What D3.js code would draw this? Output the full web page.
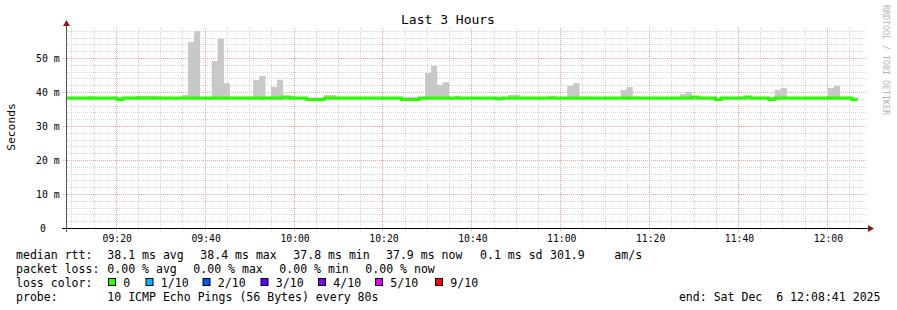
<!DOCTYPE html>
<html><head><meta charset="utf-8">
<script src="https://cdn.jsdelivr.net/npm/d3@7"></script>
<style>
html,body{margin:0;padding:0;background:#fff;}
svg{display:block;}
text{font-family:"DejaVu Sans Mono",monospace;white-space:pre;}
</style>
</head><body>
<svg id="c" width="897" height="310"></svg>
<script>
// ---- data (one value per 80 s step, first step partially visible) ----
const medianRtt = [
  38.2,38.2,38.2,38.2,38.2,38.2,38.2,38.2,38.2,37.8,
  38.2,38.2,38.2,38.2,38.2,38.2,38.2,38.2,38.2,38.2,
  38.2,38.2,38.2,38.2,38.2,38.2,38.2,38.2,38.2,38.2,
  38.2,38.2,38.2,38.2,38.2,38.2,38.2,38.5,38.2,38.2,
  38.2,37.8,37.8,37.8,38.2,38.2,38.2,38.2,38.2,38.2,
  38.2,38.2,38.2,38.2,38.2,38.2,38.2,37.8,37.8,37.8,
  38.2,38.2,38.2,38.2,38.2,38.2,38.2,38.2,38.2,38.2,
  38.2,38.2,38.2,38.0,38.2,38.2,38.2,38.2,38.2,38.2,
  38.2,38.2,38.2,38.2,38.2,38.2,38.2,38.2,38.2,38.2,
  38.2,38.2,38.2,38.2,38.2,38.2,38.2,38.2,38.2,38.2,
  38.2,38.2,38.2,38.2,38.2,38.2,38.5,38.2,38.2,38.2,
  37.8,38.2,38.2,38.2,38.2,38.5,38.2,38.2,38.2,37.8,
  38.2,38.2,38.2,38.2,38.2,38.2,38.2,38.2,38.2,38.2,
  38.2,38.2,38.2,37.8
];
const smokeMax = [
  38.4,38.4,38.4,38.4,38.8,38.4,38.4,38.4,38.4,38.6,
  38.4,38.4,38.9,38.9,38.9,38.9,38.6,38.4,38.4,38.4,
  39.1,54.7,57.9,38.4,38.4,49.1,55.6,42.6,38.6,38.6,
  38.6,38.6,43.5,44.7,38.6,41.5,43.6,38.7,38.9,38.6,
  38.6,38.4,38.4,38.4,39.1,39.1,38.4,38.4,38.4,38.4,
  38.4,38.4,38.4,38.6,38.4,38.4,38.4,38.6,38.6,38.6,
  38.4,45.6,47.7,42.1,42.9,38.4,38.9,38.4,38.4,38.4,
  38.6,38.4,38.4,38.4,38.4,39.2,39.2,38.6,38.4,38.4,
  38.4,38.4,38.9,38.4,38.4,41.8,42.6,38.4,38.6,38.4,
  38.4,38.4,38.4,38.4,40.6,41.5,38.6,38.4,38.4,38.4,
  38.4,38.4,38.4,38.4,39.4,40.0,38.8,38.4,38.4,38.6,
  38.4,38.6,38.6,38.4,38.4,38.4,38.4,38.4,38.6,38.4,
  40.6,41.2,38.4,38.4,38.4,38.4,38.6,38.6,38.4,41.2,
  41.8,38.6,38.6,38.4
];
const smokeMin = [
  37.6,37.6,37.6,37.6,37.5,37.6,37.6,37.6,37.6,37.4,
  37.6,37.6,37.6,37.6,37.6,37.6,37.6,37.6,37.5,37.6,
  37.6,37.6,37.6,37.6,37.6,37.6,37.6,37.6,37.6,37.6,
  37.6,37.6,37.6,37.5,37.6,37.6,37.6,37.6,37.6,37.6,
  37.6,37.4,37.4,37.4,37.6,37.6,37.6,37.6,37.6,37.6,
  37.6,37.6,37.6,37.6,37.6,37.6,37.6,37.4,37.4,37.4,
  37.6,37.6,37.6,37.6,37.6,37.6,37.6,37.6,37.6,37.6,
  37.6,37.6,37.6,37.5,37.6,37.6,37.6,37.6,37.6,37.6,
  37.5,37.6,37.6,37.6,37.6,37.6,37.6,37.6,37.6,37.6,
  37.6,37.6,37.6,37.6,37.6,37.6,37.6,37.6,37.6,37.6,
  37.6,37.6,37.6,37.6,37.6,37.6,37.6,37.6,37.6,37.6,
  37.4,37.6,37.6,37.6,37.6,37.6,37.6,37.6,37.6,37.4,
  37.6,37.6,37.6,37.6,37.6,37.6,37.6,37.6,37.6,37.6,
  37.6,37.6,37.6,37.4
];
const yTickValues = [0,10,20,30,40,50];
const yTickLabels = ["0","10 m","20 m","30 m","40 m","50 m"];
const xTickLabels = ["09:20","09:40","10:00","10:20","10:40","11:00","11:20","11:40","12:00"];
const titleText = "Last 3 Hours";
const yAxisTitle = "Seconds";
const watermark = "RRDTOOL / TOBI OETIKER";
const rttLegend = ["median rtt:","38.1 ms avg","38.4 ms max","37.8 ms min","37.9 ms now","0.1 ms sd","301.9","am/s"];
const lossLegend = ["packet loss:","0.00 % avg","0.00 % max","0.00 % min","0.00 % now"];
const lossColorTitle = "loss color:";
const lossLabels = ["0","1/10","2/10","3/10","4/10","5/10","9/10"];
const lossColors = ["#26ff00","#00b8ff","#0059ff","#5e00ff","#7e00ff","#dd00ff","#ff0000"];
const probeLegend = ["probe:","10 ICMP Echo Pings (56 Bytes) every 80s"];
const endText = "end: Sat Dec  6 12:08:41 2025";

// ---- layout ----
const svg = d3.select("#c");
const tStart = new Date(2025,11,6,9,8,41), tEnd = new Date(2025,11,6,12,8,41);
const firstBar = new Date(2025,11,6,9,7,55);
const stepMs = 80000;
const x = d3.scaleTime().domain([tStart,tEnd]).range([67,867]);
const y = d3.scaleLinear().domain([0,200/3.4]).range([228,28]);
const barStart = i => new Date(firstBar.getTime()+i*stepMs);
const barEnd = i => new Date(firstBar.getTime()+(i+1)*stepMs);
const gx = t => Math.floor(x(t)) - 0.5;

svg.append("rect").attr("width",897).attr("height",310).attr("fill","#fff");

const defs = svg.append("defs");
defs.append("clipPath").attr("id","plot").append("rect").attr("x",67).attr("y",28).attr("width",800).attr("height",200);

// grid
const allT = d3.timeMinute.every(5).range(tStart,tEnd);
const minorT = allT.filter(t=>t.getMinutes()%20!==0);
const majorT = allT.filter(t=>t.getMinutes()%20===0);
const minorY = d3.range(2,59,2).filter(v=>v%10!==0);
const majorY = yTickValues.filter(v=>v>0);
const g = svg.append("g").attr("shape-rendering","crispEdges");
g.selectAll("line.hmin").data(minorY).join("line").attr("class","hmin")
  .attr("x1",67).attr("x2",867).attr("y1",d=>Math.round(y(d))+0.5).attr("y2",d=>Math.round(y(d))+0.5)
  .attr("stroke","#d4d4d4").attr("stroke-dasharray","1,1");
g.selectAll("line.vmin").data(minorT).join("line").attr("class","vmin")
  .attr("x1",gx).attr("x2",gx).attr("y1",28).attr("y2",231)
  .attr("stroke","#d4d4d4").attr("stroke-dasharray","1,1");
g.selectAll("line.hmaj").data(majorY).join("line").attr("class","hmaj")
  .attr("x1",63).attr("x2",867).attr("y1",d=>Math.round(y(d))+0.5).attr("y2",d=>Math.round(y(d))+0.5)
  .attr("stroke","#f4a0a0").attr("stroke-dasharray","1,1");
g.selectAll("line.vmaj").data(majorT).join("line").attr("class","vmaj")
  .attr("x1",gx).attr("x2",gx).attr("y1",28).attr("y2",232)
  .attr("stroke","#f2a0a0").attr("stroke-dasharray","1,1");

// smoke
const plot = svg.append("g").attr("clip-path","url(#plot)");
plot.selectAll("rect.smoke").data(smokeMax).join("rect").attr("class","smoke")
  .attr("x",(d,i)=>x(barStart(i)))
  .attr("width",(d,i)=>x(barEnd(i))-x(barStart(i))+0.3)
  .attr("y",d=>y(d))
  .attr("height",(d,i)=>y(smokeMin[i])-y(d))
  .attr("fill","#c8c8c8");

// median line (step)
const pts = medianRtt.map((v,i)=>[barStart(i),v]);
pts.push([barEnd(medianRtt.length-1), medianRtt[medianRtt.length-1]]);
plot.append("path")
  .attr("d", d3.line().x(d=>x(d[0])).y(d=>y(d[1])).curve(d3.curveStepAfter)(pts))
  .attr("fill","none").attr("stroke","#26ff00").attr("stroke-width",3);

// axes
svg.append("line").attr("x1",66.5).attr("x2",66.5).attr("y1",24).attr("y2",232).attr("stroke","#555");
svg.append("line").attr("x1",62).attr("x2",869).attr("y1",228.5).attr("y2",228.5).attr("stroke","#000");
svg.append("path").attr("d","M63,26 L70,26 L66.5,20 Z").attr("fill","#8b1a1a");
svg.append("path").attr("d","M868,225 L868,232 L874,228.5 Z").attr("fill","#8b1a1a");

// y tick labels
svg.selectAll("text.yl").data(yTickValues).join("text").attr("class","yl")
  .attr("x",(d,i)=>i===0?43:59.5).attr("y",d=>y(d)+0.5)
  .attr("text-anchor",(d,i)=>i===0?"middle":"end").attr("dominant-baseline","central")
  .attr("font-size","9.75px").attr("fill","#000")
  .text((d,i)=>yTickLabels[i]);

// x tick labels
svg.selectAll("text.xl").data(xTickLabels).join("text").attr("class","xl")
  .attr("x",(d,i)=>x(majorT[i])).attr("y",238)
  .attr("text-anchor","middle").attr("dominant-baseline","central")
  .attr("font-size","9.75px").attr("fill","#000").text(d=>d);

// title
svg.append("text").attr("x",448).attr("y",19.5).attr("text-anchor","middle").attr("dominant-baseline","central")
  .attr("font-size","13px").attr("fill","#000").text(titleText);
svg.append("text").attr("transform","translate(11.5,127) rotate(-90)").attr("text-anchor","middle")
  .attr("dominant-baseline","central").attr("font-size","11.3px").attr("fill","#000").text(yAxisTitle);
svg.append("text").attr("transform","translate(886,5) rotate(90)").attr("text-anchor","start")
  .attr("dominant-baseline","central").attr("font-size","8.3px").attr("fill","#b4b4b4").text(watermark);

// legend
const lf = "11.55px";
const rttX = [16,107.3,200.3,293.3,386,480,550,614.3];
svg.selectAll("text.l1").data(rttLegend).join("text").attr("class","l1")
  .attr("x",(d,i)=>rttX[i]).attr("y",254.5).attr("dominant-baseline","central")
  .attr("font-size",lf).attr("fill","#000").text(d=>d);
const lossX = [16,107.3,193.3,279.3,365.3];
svg.selectAll("text.l2").data(lossLegend).join("text").attr("class","l2")
  .attr("x",(d,i)=>lossX[i]).attr("y",268.5).attr("dominant-baseline","central")
  .attr("font-size",lf).attr("fill","#000").text(d=>d);
svg.append("text").attr("x",16).attr("y",282.5).attr("dominant-baseline","central")
  .attr("font-size",lf).attr("fill","#000").text(lossColorTitle);
const boxX = [108.5,146,203,261,318.5,375.5,435.5];
svg.selectAll("rect.lb").data(lossColors).join("rect").attr("class","lb")
  .attr("x",(d,i)=>boxX[i]).attr("y",278.5).attr("width",7).attr("height",7)
  .attr("fill",d=>d).attr("stroke","#000").attr("stroke-width",1);
svg.selectAll("text.lt").data(lossLabels).join("text").attr("class","lt")
  .attr("x",(d,i)=>boxX[i]+14.8).attr("y",282.5).attr("dominant-baseline","central")
  .attr("font-size",lf).attr("fill","#000").text(d=>d);
const probeX = [16,107.3];
svg.selectAll("text.l4").data(probeLegend).join("text").attr("class","l4")
  .attr("x",(d,i)=>probeX[i]).attr("y",296.5).attr("dominant-baseline","central")
  .attr("font-size",lf).attr("fill","#000").text(d=>d);
svg.append("text").attr("x",880.5).attr("y",296.5).attr("text-anchor","end").attr("dominant-baseline","central")
  .attr("font-size",lf).attr("fill","#000").text(endText);
</script>
</body></html>
